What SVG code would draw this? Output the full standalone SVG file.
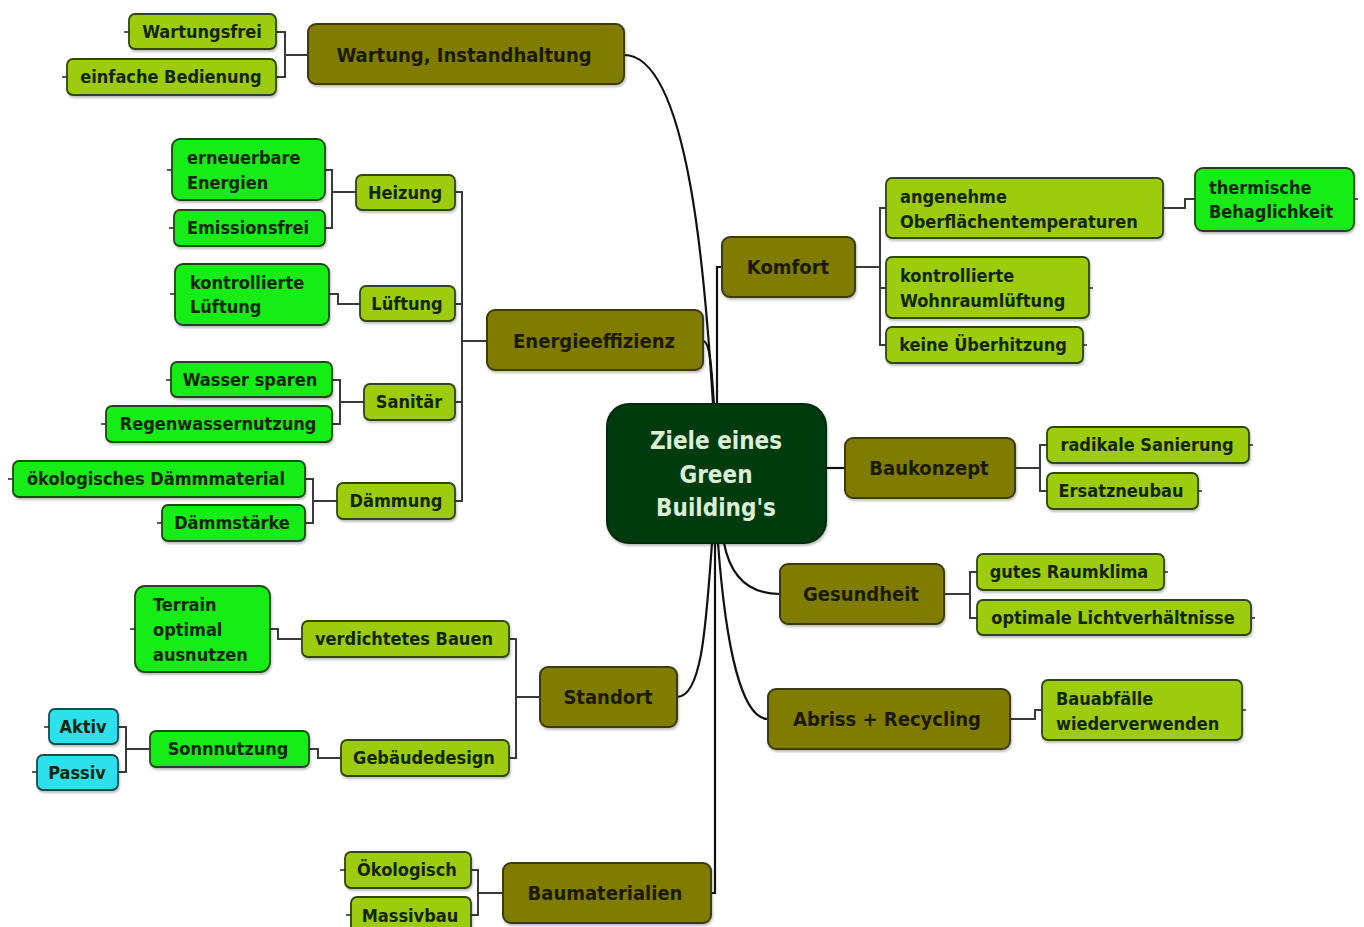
<svg xmlns="http://www.w3.org/2000/svg" width="1364" height="927" viewBox="0 0 1364 927">
<defs>
<filter id="sh" x="-10%" y="-10%" width="120%" height="130%">
<feDropShadow dx="1" dy="2" stdDeviation="1.2" flood-color="#000" flood-opacity="0.25"/>
</filter>
<style>
text{font-family:"DejaVu Sans Condensed","DejaVu Sans",sans-serif;font-stretch:condensed;font-weight:bold;}
.m rect{fill:#807b06;stroke:#3c3a0c;stroke-width:2;filter:url(#sh);}
.m text{font-size:20px;fill:#1c1a02;text-anchor:middle;}
.s rect{fill:#9ccc0e;stroke:#2e4608;stroke-width:1.8;filter:url(#sh);}
.g rect{fill:#18ec18;stroke:#1c4a10;stroke-width:1.8;filter:url(#sh);}
.c rect{fill:#2ee0ec;stroke:#1a4a50;stroke-width:1.8;filter:url(#sh);}
.s text,.g text,.c text{font-size:18px;fill:#13260a;text-anchor:middle;}
text.l{text-anchor:start;}
.root rect{fill:#033b0c;stroke:#022a08;stroke-width:2;filter:url(#sh);}
.root text{font-size:24px;fill:#dcefd6;text-anchor:middle;}
.stub{stroke:#333;stroke-width:1.6;fill:none;}
#connectors path{fill:none;stroke:#111;stroke-width:2.2;}
#connectors path.b{stroke:#3a3a3a;stroke-width:2;}
</style>
</defs>
<rect width="1364" height="927" fill="#fff"/>

<g id="connectors">
<!-- root to main branches -->
<path d="M624,55 C690,55 706,290 713,404"/>
<path d="M703,341 C711,341 712,380 714,404"/>
<path d="M717,404 V267 H722"/>
<path d="M826,468 H845"/>
<path d="M724,543 C732,585 758,594 780,594"/>
<path d="M712,543 C706,625 702,697 677,697"/>
<path d="M718,543 C726,650 742,719 768,719"/>
<path d="M715,543 V893 H711"/>
<!-- brackets -->
<path class="b" d="M308,55 H285 M276,32 H285 V77 H276"/>
<path class="b" d="M487,341 H462 M455,192 H462 V501 H455 M455,304 H462 M455,402 H462"/>
<path class="b" d="M356,192 H332 M325,170 H332 V228 H325"/>
<path class="b" d="M360,304 H338 V294 H329"/>
<path class="b" d="M364,402 H340 M332,380 H340 V424 H332"/>
<path class="b" d="M337,501 H313 M305,479 H313 V523 H305"/>
<path class="b" d="M855,267 H880 M886,208 H880 V345 H886 M880,288 H886"/>
<path class="b" d="M1163,208 H1185 V199 H1195"/>
<path class="b" d="M1015,468 H1040 M1047,445 H1040 V491 H1047"/>
<path class="b" d="M944,594 H970 M977,572 H970 V618 H977"/>
<path class="b" d="M1010,719 H1035 V710 H1042"/>
<path class="b" d="M540,697 H516 M509,639 H516 V758 H509"/>
<path class="b" d="M302,639 H278 V629 H270"/>
<path class="b" d="M341,758 H318 V749 H309"/>
<path class="b" d="M150,749 H126 M118,727 H126 V772 H118"/>
<path class="b" d="M503,893 H478 M471,870 H478 V915 H471"/>
</g>

<g id="root" class="root">
<rect x="607" y="404" width="219" height="139" rx="22"/>
<text x="716" y="449">Ziele eines</text>
<text x="716" y="483">Green</text>
<text x="716" y="516">Building's</text>
</g>

<g id="wartung" class="m"><rect x="308" y="24" width="316" height="60" rx="8"/><text x="464" y="62">Wartung, Instandhaltung</text></g>
<g id="komfort" class="m"><rect x="722" y="237" width="133" height="60" rx="8"/><text x="788" y="274">Komfort</text></g>
<g id="energie" class="m"><rect x="487" y="310" width="216" height="60" rx="8"/><text x="594" y="348">Energieeffizienz</text></g>
<g id="baukonzept" class="m"><rect x="845" y="438" width="170" height="60" rx="8"/><text x="929" y="475">Baukonzept</text></g>
<g id="gesundheit" class="m"><rect x="780" y="564" width="164" height="60" rx="8"/><text x="861" y="601">Gesundheit</text></g>
<g id="standort" class="m"><rect x="540" y="667" width="137" height="60" rx="8"/><text x="608" y="704">Standort</text></g>
<g id="abriss" class="m"><rect x="768" y="689" width="242" height="60" rx="8"/><text x="887" y="726">Abriss + Recycling</text></g>
<g id="baumaterialien" class="m"><rect x="503" y="863" width="208" height="60" rx="8"/><text x="605" y="900">Baumaterialien</text></g>

<g id="wartungsfrei" class="s"><rect x="129" y="14" width="147" height="35" rx="6"/><line class="stub" x1="124" y1="32" x2="129" y2="32"/><text x="202" y="38">Wartungsfrei</text></g>
<g id="bedienung" class="s"><rect x="67" y="59" width="209" height="36" rx="6"/><line class="stub" x1="62" y1="77" x2="67" y2="77"/><text x="171" y="83">einfache Bedienung</text></g>
<g id="heizung" class="s"><rect x="356" y="175" width="99" height="35" rx="6"/><text x="405" y="199">Heizung</text></g>
<g id="lueftung" class="s"><rect x="360" y="286" width="95" height="35" rx="6"/><text x="407" y="310">Lüftung</text></g>
<g id="sanitaer" class="s"><rect x="364" y="384" width="91" height="36" rx="6"/><text x="409" y="408">Sanitär</text></g>
<g id="daemmung" class="s"><rect x="337" y="483" width="118" height="36" rx="6"/><text x="396" y="507">Dämmung</text></g>
<g id="angenehme" class="s"><rect x="886" y="178" width="277" height="60" rx="6"/><text class="l" x="900" y="203">angenehme</text><text class="l" x="900" y="228">Oberflächentemperaturen</text></g>
<g id="wohnraum" class="s"><rect x="886" y="257" width="203" height="61" rx="6"/><line class="stub" x1="1089" y1="288" x2="1093" y2="288"/><text class="l" x="900" y="282">kontrollierte</text><text class="l" x="900" y="307">Wohnraumlüftung</text></g>
<g id="ueberhitzung" class="s"><rect x="886" y="327" width="197" height="36" rx="6"/><line class="stub" x1="1083" y1="345" x2="1087" y2="345"/><text x="983" y="351">keine Überhitzung</text></g>
<g id="sanierung" class="s"><rect x="1047" y="427" width="202" height="36" rx="6"/><line class="stub" x1="1249" y1="445" x2="1253" y2="445"/><text x="1147" y="451">radikale Sanierung</text></g>
<g id="ersatzneubau" class="s"><rect x="1047" y="473" width="151" height="36" rx="6"/><line class="stub" x1="1198" y1="491" x2="1202" y2="491"/><text x="1121" y="497">Ersatzneubau</text></g>
<g id="raumklima" class="s"><rect x="977" y="554" width="187" height="36" rx="6"/><line class="stub" x1="1164" y1="572" x2="1168" y2="572"/><text x="1069" y="578">gutes Raumklima</text></g>
<g id="licht" class="s"><rect x="977" y="600" width="274" height="35" rx="6"/><line class="stub" x1="1251" y1="618" x2="1255" y2="618"/><text x="1113" y="624">optimale Lichtverhältnisse</text></g>
<g id="bauabfaelle" class="s"><rect x="1042" y="680" width="200" height="60" rx="6"/><line class="stub" x1="1242" y1="710" x2="1246" y2="710"/><text class="l" x="1056" y="705">Bauabfälle</text><text class="l" x="1056" y="730">wiederverwenden</text></g>
<g id="verdichtet" class="s"><rect x="302" y="621" width="207" height="36" rx="6"/><text x="404" y="645">verdichtetes Bauen</text></g>
<g id="gebaeudedesign" class="s"><rect x="341" y="740" width="168" height="36" rx="6"/><text x="424" y="764">Gebäudedesign</text></g>
<g id="oekologisch" class="s"><rect x="345" y="852" width="126" height="36" rx="6"/><line class="stub" x1="340" y1="870" x2="345" y2="870"/><text x="407" y="876">Ökologisch</text></g>
<g id="massivbau" class="s"><rect x="351" y="897" width="120" height="36" rx="6"/><line class="stub" x1="346" y1="915" x2="351" y2="915"/><text x="410" y="922">Massivbau</text></g>

<g id="erneuerbar" class="g"><rect x="172" y="139" width="153" height="61" rx="8"/><line class="stub" x1="167" y1="170" x2="172" y2="170"/><text class="l" x="187" y="164">erneuerbare</text><text class="l" x="187" y="189">Energien</text></g>
<g id="emissionsfrei" class="g"><rect x="174" y="210" width="151" height="36" rx="6"/><line class="stub" x1="169" y1="228" x2="174" y2="228"/><text x="248" y="234">Emissionsfrei</text></g>
<g id="kontrLueftung" class="g"><rect x="175" y="264" width="154" height="61" rx="8"/><line class="stub" x1="170" y1="294" x2="175" y2="294"/><text class="l" x="190" y="289">kontrollierte</text><text class="l" x="190" y="313">Lüftung</text></g>
<g id="wassersparen" class="g"><rect x="171" y="362" width="161" height="35" rx="6"/><line class="stub" x1="166" y1="380" x2="171" y2="380"/><text x="250" y="386">Wasser sparen</text></g>
<g id="regenwasser" class="g"><rect x="106" y="406" width="226" height="36" rx="6"/><line class="stub" x1="101" y1="424" x2="106" y2="424"/><text x="218" y="430">Regenwassernutzung</text></g>
<g id="daemmmaterial" class="g"><rect x="13" y="461" width="292" height="36" rx="6"/><line class="stub" x1="8" y1="479" x2="13" y2="479"/><text x="156" y="485">ökologisches Dämmmaterial</text></g>
<g id="daemmstaerke" class="g"><rect x="162" y="505" width="143" height="36" rx="6"/><line class="stub" x1="157" y1="523" x2="162" y2="523"/><text x="232" y="529">Dämmstärke</text></g>
<g id="thermisch" class="g"><rect x="1195" y="168" width="159" height="63" rx="8"/><line class="stub" x1="1354" y1="199" x2="1358" y2="199"/><text class="l" x="1209" y="194">thermische</text><text class="l" x="1209" y="218">Behaglichkeit</text></g>
<g id="terrain" class="g"><rect x="135" y="586" width="135" height="86" rx="10"/><line class="stub" x1="130" y1="629" x2="135" y2="629"/><text class="l" x="153" y="611">Terrain</text><text class="l" x="153" y="636">optimal</text><text class="l" x="153" y="661">ausnutzen</text></g>
<g id="sonnnutzung" class="g"><rect x="150" y="731" width="159" height="36" rx="6"/><text x="228" y="755">Sonnnutzung</text></g>

<g id="aktiv" class="c"><rect x="49" y="709" width="69" height="35" rx="6"/><line class="stub" x1="44" y1="727" x2="49" y2="727"/><text x="83" y="733">Aktiv</text></g>
<g id="passiv" class="c"><rect x="37" y="755" width="81" height="35" rx="6"/><line class="stub" x1="32" y1="772" x2="37" y2="772"/><text x="77" y="779">Passiv</text></g>
</svg>
